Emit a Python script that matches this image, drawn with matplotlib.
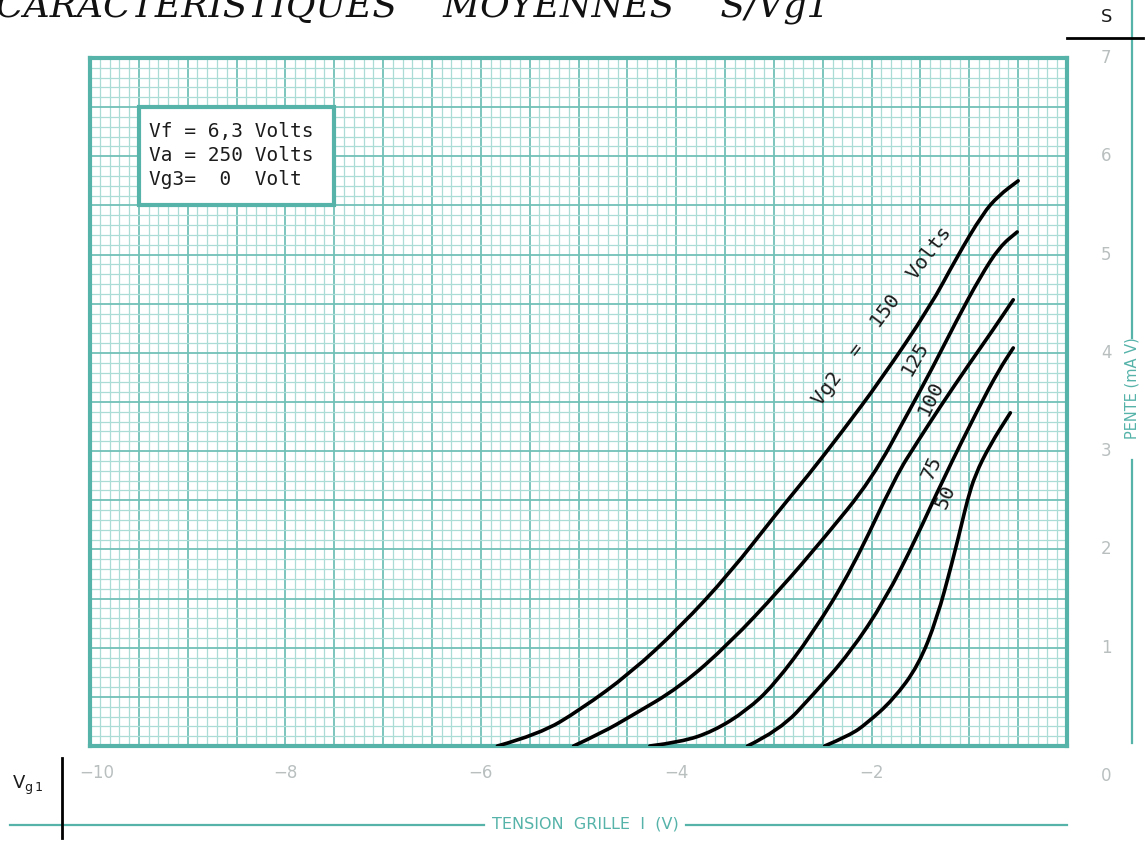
import matplotlib
matplotlib.use("Agg")
import matplotlib.pyplot as plt
from matplotlib.ticker import MultipleLocator
from matplotlib.patches import Rectangle, PathPatch
from matplotlib.path import Path
from matplotlib.lines import Line2D

# ---------------- data ----------------
x_ticks = [-10, -8, -6, -4, -2]
y_ticks = [0, 1, 2, 3, 4, 5, 6, 7]

vg2_labels = ["Vg2  =  150  Volts", "125", "100", "75", "50"]

c150_x = [-5.83, -5.40, -4.98, -4.47, -3.96, -3.45, -2.97, -2.66, -2.30, -1.91, -1.40, -1.13, -0.86, -0.70, -0.50]
c150_y = [0.00, 0.12, 0.37, 0.74, 1.21, 1.76, 2.37, 2.74, 3.20, 3.72, 4.47, 4.97, 5.42, 5.60, 5.75]

c125_x = [-5.05, -4.75, -4.47, -3.96, -3.45, -2.94, -2.50, -2.00, -1.61, -1.37, -1.13, -0.89, -0.69, -0.51]
c125_y = [0.00, 0.14, 0.30, 0.60, 1.05, 1.59, 2.10, 2.71, 3.42, 3.86, 4.33, 4.77, 5.08, 5.23]

c100_x = [-4.27, -3.95, -3.62, -3.28, -3.00, -2.60, -2.20, -1.75, -1.54, -1.30, -1.02, -0.76, -0.55]
c100_y = [0.00, 0.04, 0.15, 0.36, 0.62, 1.15, 1.80, 2.75, 3.08, 3.45, 3.86, 4.23, 4.54]

c75_x = [-3.27, -2.94, -2.60, -2.22, -1.86, -1.55, -1.27, -0.90, -0.70, -0.55]
c75_y = [0.00, 0.16, 0.52, 0.95, 1.49, 2.10, 2.71, 3.45, 3.82, 4.05]

c50_x = [-2.48, -2.22, -2.05, -1.78, -1.52, -1.33, -1.18, -1.08, -1.02, -0.94, -0.79, -0.58]
c50_y = [0.00, 0.11, 0.23, 0.47, 0.82, 1.30, 1.85, 2.25, 2.50, 2.76, 3.06, 3.39]

curves = [(c150_x, c150_y), (c125_x, c125_y), (c100_x, c100_y), (c75_x, c75_y), (c50_x, c50_y)]

# ---------------- style ----------------
TEAL = "#55b3a9"
TEAL_MAJ = "#72c0b7"
TEAL_MIN = "#abdcd6"
GREY = "#b9bfbf"
INK = "#1c1c1c"

W, H = 1146, 842
fig = plt.figure(figsize=(W / 100, H / 100), dpi=100)
fig.patch.set_facecolor("white")

L, R, T, B = 90, 1067, 58, 746
ax = fig.add_axes([L / W, 1 - B / H, (R - L) / W, (B - T) / H])
ax.set_xlim(-10, 0)
ax.set_ylim(0, 7)

ax.xaxis.set_major_locator(MultipleLocator(0.5))
ax.xaxis.set_minor_locator(MultipleLocator(0.1))
ax.yaxis.set_major_locator(MultipleLocator(0.5))
ax.yaxis.set_minor_locator(MultipleLocator(0.1))
ax.grid(which="minor", color=TEAL_MIN, lw=0.9)
ax.grid(which="major", color=TEAL_MAJ, lw=1.3)
ax.set_axisbelow(True)
ax.tick_params(which="both", length=0, labelbottom=False, labelleft=False)
for s in ax.spines.values():
    s.set_color(TEAL)
    s.set_linewidth(3)


def smooth_path(xs, ys):
    """Quadratic Bezier path through midpoints, control points at the read points."""
    pts = list(zip(xs, ys))
    verts = [pts[0]]
    codes = [Path.MOVETO]
    for i in range(1, len(pts) - 1):
        mid = ((pts[i][0] + pts[i + 1][0]) / 2, (pts[i][1] + pts[i + 1][1]) / 2)
        verts += [pts[i], mid]
        codes += [Path.CURVE3, Path.CURVE3]
    verts.append(pts[-1])
    codes.append(Path.LINETO)
    return Path(verts, codes)


for xs, ys in curves:
    ax.add_patch(PathPatch(smooth_path(xs, ys), facecolor="none", edgecolor="black",
                           lw=2.6, capstyle="round", joinstyle="round", zorder=5))

# info box
ax.add_patch(Rectangle((-9.5, 5.5), 2.0, 1.0, facecolor="white", edgecolor=TEAL, lw=3, zorder=6))
info = ["Vf = 6,3 Volts", "Va = 250 Volts", "Vg3=  0  Volt"]
for i, line in enumerate(info):
    ax.text(-9.4, 6.25 - i * 0.244, line, family="DejaVu Sans Mono", fontsize=14,
            color=INK, va="center", ha="left", zorder=7)

# curve labels (pixel positions converted to data)
def dx(px):
    return (px - L) / (R - L) * 10 - 10

def dy(py):
    return (B - py) / (B - T) * 7

lab_pos = [(882, 316, 53), (915, 358, 60), (931, 398, 64), (932, 468, 65), (946, 497, 66)]
for (px, py, rot), txt in zip(lab_pos, vg2_labels):
    ax.text(dx(px), dy(py), txt, rotation=rot, rotation_mode="anchor", family="DejaVu Sans Mono",
            fontsize=14.5, color=INK, ha="center", va="center", zorder=7)

# tick labels (figure pixel coordinates)
def fx(px):
    return px / W

def fy(py):
    return 1 - py / H

for v in x_ticks:
    px = L + (v + 10) / 10 * (R - L)
    if v == -10:
        px = 97
    fig.text(fx(px), fy(773), "\u2212" + str(abs(v)), color=GREY, fontsize=12,
             ha="center", va="center", family="DejaVu Sans")

for v in y_ticks:
    py = B - v / 7 * (B - T)
    if v == 0:
        py = 776
    fig.text(fx(1106), fy(py), str(v), color=GREY, fontsize=12, ha="center", va="center",
             family="DejaVu Sans")

# bottom axis title with lines
fig.text(fx(585), fy(824), "TENSION  GRILLE  I  (V)", color=TEAL, fontsize=11.5,
         ha="center", va="center", family="DejaVu Sans")
fig.add_artist(Line2D([fx(10), fx(484)], [fy(825), fy(825)], color=TEAL, lw=1.6))
fig.add_artist(Line2D([fx(686), fx(1067)], [fy(825), fy(825)], color=TEAL, lw=1.6))

# Vg1 label and black bar
fig.text(fx(28), fy(785), r"$\mathregular{V_{g\,1}}$", color=INK, fontsize=13,
         ha="center", va="center")
fig.add_artist(Line2D([fx(62), fx(62)], [fy(758), fy(838)], color="black", lw=2))

# right axis title
fig.text(fx(1132), fy(388), "PENTE (mA V)", color=TEAL, fontsize=10.5, rotation=90,
         ha="center", va="center", family="DejaVu Sans")
fig.add_artist(Line2D([fx(1132), fx(1132)], [fy(0), fy(338)], color=TEAL, lw=1.6))
fig.add_artist(Line2D([fx(1132), fx(1132)], [fy(460), fy(743)], color=TEAL, lw=1.6))

# S label and black bar
fig.text(fx(1107), fy(17), "S", color=INK, fontsize=13, ha="center", va="center")
fig.add_artist(Line2D([fx(1067), fx(1143)], [fy(38), fy(38)], color="black", lw=2))

# title (clipped at top, as in the scan)
fig.text(fx(-4), fy(16), "CARACTERISTIQUES    MOYENNES    S/Vg1",
         family="DejaVu Serif", style="italic", fontsize=26, color="#111111",
         ha="left", va="baseline")

fig.savefig("out.png", dpi=100)
